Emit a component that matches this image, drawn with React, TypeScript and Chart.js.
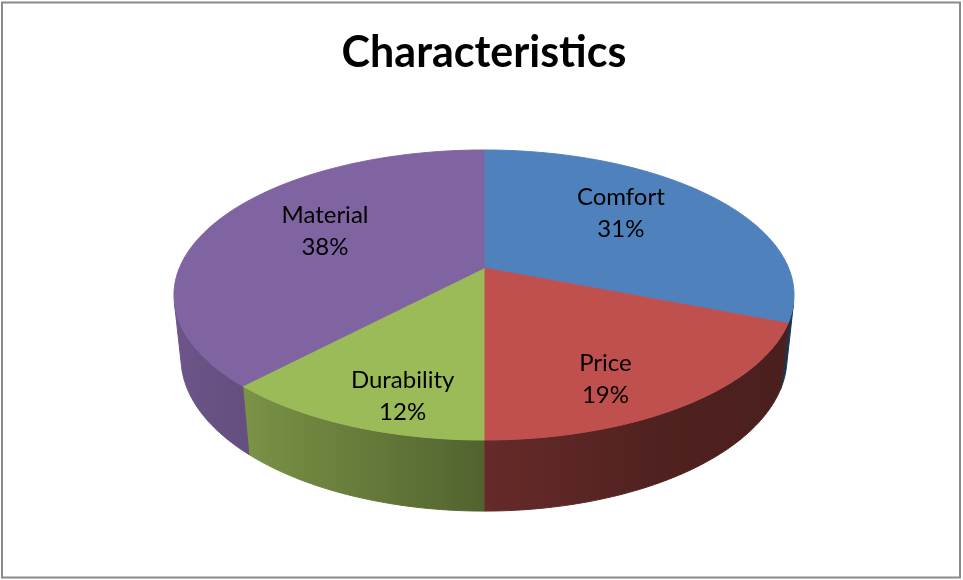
import { useEffect, useRef } from "react";
import { Chart, registerables } from "chart.js";

Chart.register(...registerables);

// ---- data ----
const categories = ["Comfort", "Price", "Durability", "Material"];
const shares = [31, 19, 12, 38];
const sliceColors = ["#4F81BD", "#C0504D", "#9BBB59", "#8064A2"];
const chartTitle = "Characteristics";

// ---- 3D view settings ----
const TILT = (27.36 * Math.PI) / 180;
const DIST = 4.77;
const FOCAL = 1453;
const THICK = 0.234;
const LABEL_FX = 0.6;
const LABEL_FY = 0.8;
const SHADE_ANGLES = [90, 111, 150, 180, 200, 223, 250, 270];
const SHADE_VALUES = [0.37, 0.385, 0.41, 0.53, 0.665, 0.79, 0.85, 0.87];
const LABEL_FONT = "24px Lato";

function project(X: number, Y: number, Z: number, cx: number, cy: number) {
  const u = X;
  const v = Y * Math.cos(TILT) + Z * Math.sin(TILT);
  const w = -Y * Math.sin(TILT) + Z * Math.cos(TILT);
  const s = FOCAL / (DIST + w);
  return { x: cx + u * s, y: cy - v * s };
}

function shadeAt(phi: number) {
  const d = (phi * 180) / Math.PI;
  if (d <= SHADE_ANGLES[0]) return SHADE_VALUES[0];
  for (let i = 1; i < SHADE_ANGLES.length; i++) {
    if (d <= SHADE_ANGLES[i]) {
      const t = (d - SHADE_ANGLES[i - 1]) / (SHADE_ANGLES[i] - SHADE_ANGLES[i - 1]);
      return SHADE_VALUES[i - 1] + t * (SHADE_VALUES[i] - SHADE_VALUES[i - 1]);
    }
  }
  return SHADE_VALUES[SHADE_VALUES.length - 1];
}

function hexToRgb(hex: string) {
  const n = parseInt(hex.slice(1), 16);
  return [(n >> 16) & 255, (n >> 8) & 255, n & 255];
}

function shaded(hex: string, f: number) {
  const [r, g, b] = hexToRgb(hex);
  return `rgb(${Math.round(r * f)},${Math.round(g * f)},${Math.round(b * f)})`;
}

const pie3d = {
  id: "pie3d",
  beforeDatasetsDraw(chart: any) {
    const ctx: any = chart.ctx;
    const meta = chart.getDatasetMeta(0);
    const arcs = meta.data;
    if (!arcs.length) return;
    const cx = arcs[0].x;
    const cy = arcs[0].y;
    const R = arcs[0].outerRadius;

    // side walls
    const phiVis = Math.acos(-1 / (DIST * Math.cos(TILT)));
    arcs.forEach((arc: any, i: number) => {
      const p1 = arc.startAngle + Math.PI / 2;
      const p2 = arc.endAngle + Math.PI / 2;
      const lo = Math.max(p1, phiVis);
      const hi = Math.min(p2, 2 * Math.PI - phiVis);
      if (hi <= lo) return;
      const n = Math.max(4, Math.ceil(((hi - lo) * 180) / Math.PI));
      const top: { x: number; y: number }[] = [];
      const bot: { x: number; y: number }[] = [];
      for (let k = 0; k <= n; k++) {
        const ph = lo + ((hi - lo) * k) / n;
        top.push(project(Math.sin(ph), 0, Math.cos(ph), cx, cy));
        bot.push(project(Math.sin(ph), -THICK, Math.cos(ph), cx, cy));
      }
      const xs = top.map((p) => p.x);
      const xmin = Math.min(...xs);
      const xmax = Math.max(...xs);
      const grad = ctx.createLinearGradient(xmin, 0, xmax + 0.01, 0);
      const base = sliceColors[i % sliceColors.length];
      for (let k = 0; k <= n; k++) {
        const ph = lo + ((hi - lo) * k) / n;
        const pos = (top[k].x - xmin) / (xmax - xmin + 0.01);
        grad.addColorStop(Math.min(1, Math.max(0, pos)), shaded(base, shadeAt(ph)));
      }
      ctx.save();
      ctx.beginPath();
      top.forEach((p, k) => (k ? ctx.lineTo(p.x, p.y) : ctx.moveTo(p.x, p.y)));
      for (let k = bot.length - 1; k >= 0; k--) ctx.lineTo(bot[k].x, bot[k].y);
      ctx.closePath();
      ctx.fillStyle = grad;
      ctx.fill();
      ctx.strokeStyle = grad;
      ctx.lineWidth = 1;
      ctx.stroke();
      ctx.restore();
    });

    // route the library's own arc paths through the perspective view
    const toScreen = (px: number, py: number) => project((px - cx) / R, 0, -(py - cy) / R, cx, cy);
    const origLine = CanvasRenderingContext2D.prototype.lineTo;
    const origMove = CanvasRenderingContext2D.prototype.moveTo;
    ctx.moveTo = function (px: number, py: number) {
      const p = toScreen(px, py);
      origMove.call(ctx, p.x, p.y);
    };
    ctx.lineTo = function (px: number, py: number) {
      const p = toScreen(px, py);
      origLine.call(ctx, p.x, p.y);
    };
    ctx.arc = function (ax: number, ay: number, r: number, a0: number, a1: number, ccw?: boolean) {
      if (!(r > 0) || !isFinite(a0) || !isFinite(a1)) {
        const p = toScreen(ax, ay);
        origLine.call(ctx, p.x, p.y);
        return;
      }
      let sweep = a1 - a0;
      if (!ccw) {
        if (sweep < 0) sweep += 2 * Math.PI;
        if (sweep > 2 * Math.PI) sweep = 2 * Math.PI;
      } else {
        if (sweep > 0) sweep -= 2 * Math.PI;
        if (sweep < -2 * Math.PI) sweep = -2 * Math.PI;
      }
      const steps = Math.max(2, Math.ceil(Math.abs(sweep) / (Math.PI / 360)));
      for (let k = 0; k <= steps; k++) {
        const a = a0 + (sweep * k) / steps;
        const p = toScreen(ax + r * Math.cos(a), ay + r * Math.sin(a));
        origLine.call(ctx, p.x, p.y);
      }
    };
  },
  afterDatasetsDraw(chart: any) {
    const ctx: any = chart.ctx;
    delete ctx.arc;
    delete ctx.lineTo;
    delete ctx.moveTo;
    const meta = chart.getDatasetMeta(0);
    const arcs = meta.data;
    if (!arcs.length) return;
    const cx = arcs[0].x;
    const cy = arcs[0].y;
    const total = shares.reduce((a, b) => a + b, 0);
    ctx.save();
    ctx.fillStyle = "#000";
    ctx.font = LABEL_FONT;
    ctx.textAlign = "center";
    ctx.textBaseline = "alphabetic";
    arcs.forEach((arc: any, i: number) => {
      const pm = (arc.startAngle + arc.endAngle) / 2 + Math.PI / 2;
      const rim = project(Math.sin(pm), 0, Math.cos(pm), cx, cy);
      const lx = cx + LABEL_FX * (rim.x - cx);
      const ly = cy + LABEL_FY * (rim.y - cy);
      const pct = Math.round((shares[i] / total) * 100);
      ctx.fillText(categories[i], lx, ly - 6);
      ctx.fillText(`${pct}%`, lx, ly + 26);
    });
    ctx.restore();
  },
  afterDraw(chart: any) {
    const ctx = chart.ctx;
    ctx.save();
    ctx.strokeStyle = "#8a8a8a";
    ctx.lineWidth = 2;
    ctx.strokeRect(2, 2.5, 958, 575);
    ctx.restore();
  },
};

export default function App() {
  const ref = useRef<HTMLCanvasElement | null>(null);
  useEffect(() => {
    document.body.style.margin = "0";
    const canvas = ref.current;
    if (!canvas) return;
    const chart = new Chart(canvas, {
      type: "pie",
      data: {
        labels: categories,
        datasets: [
          {
            data: shares,
            backgroundColor: sliceColors,
            borderColor: sliceColors,
            borderWidth: 1,
            clip: false as any,
          },
        ],
      },
      options: {
        responsive: false,
        animation: false,
        events: [],
        layout: { padding: { left: 5, right: 0, top: 0, bottom: 132.6 } },
        plugins: {
          legend: { display: false },
          tooltip: { enabled: false },
          title: {
            display: true,
            text: chartTitle,
            color: "#000",
            font: { family: "Lato", size: 43, weight: "bold" },
            padding: { top: 27, bottom: 10 },
          },
        },
      },
      plugins: [pie3d],
    });
    return () => chart.destroy();
  }, []);
  return <canvas ref={ref} width={963} height={580} style={{ display: "block" }} />;
}
